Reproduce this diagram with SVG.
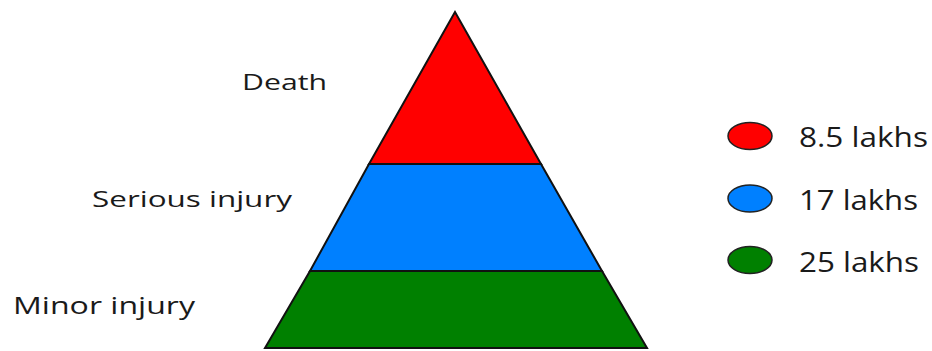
<svg xmlns="http://www.w3.org/2000/svg" width="932" height="351" viewBox="0 0 932 351">
<style>
.t{font-family:"Open Sans","Liberation Sans",sans-serif;fill:#1a1a1a;}
.band{stroke:#111;stroke-width:2;stroke-linejoin:miter;}
.leg{stroke:#222;stroke-width:1.5;}
</style>
<rect width="932" height="351" fill="#fff"/>
<g id="pyramid">
<g id="death-band"><polygon class="band" points="455,12 369,164 541,164" fill="#ff0000"/></g>
<g id="serious-band"><polygon class="band" points="369,164 541,164 602,271 310,271" fill="#0080ff"/></g>
<g id="minor-band"><polygon class="band" points="310,271 602,271 647,348 265,348" fill="#008000"/></g>
</g>
<g id="labels">
<text id="death" class="t" x="242" y="90" font-size="22.5" textLength="85" lengthAdjust="spacingAndGlyphs">Death</text>
<text id="serious" class="t" x="92" y="207" font-size="22.5" textLength="200" lengthAdjust="spacingAndGlyphs">Serious injury</text>
<text id="minor" class="t" x="13" y="314" font-size="23" textLength="182" lengthAdjust="spacingAndGlyphs">Minor injury</text>
</g>
<g id="legend">
<g id="leg-red"><ellipse class="leg" cx="750" cy="136" rx="22" ry="13.5" fill="#ff0000"/><text class="t" x="799" y="147" font-size="27" textLength="129" lengthAdjust="spacingAndGlyphs">8.5 lakhs</text></g>
<g id="leg-blue"><ellipse class="leg" cx="750" cy="198.5" rx="22" ry="13.5" fill="#0080ff"/><text class="t" x="799" y="210" font-size="27" textLength="119" lengthAdjust="spacingAndGlyphs">17 lakhs</text></g>
<g id="leg-green"><ellipse class="leg" cx="750" cy="260" rx="22" ry="13.5" fill="#008000"/><text class="t" x="799" y="272" font-size="27" textLength="120" lengthAdjust="spacingAndGlyphs">25 lakhs</text></g>
</g>
</svg>
